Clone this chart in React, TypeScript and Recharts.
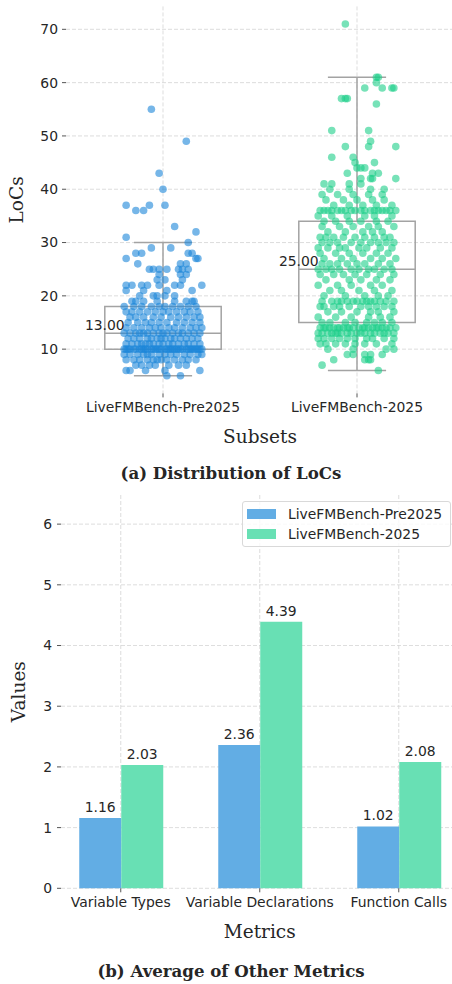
import React from "react";
import {
  ComposedChart,
  Scatter,
  BarChart,
  Bar,
  LabelList,
  XAxis,
  YAxis,
  CartesianGrid,
  ReferenceArea,
  ReferenceLine,
  ReferenceDot,
} from "recharts";

const SANS = "DejaVu Sans";
const SERIF = "DejaVu Serif";
const INK = "#262626";

const SUBSETS = ["LiveFMBench-Pre2025", "LiveFMBench-2025"];
const SUBSET_POS = [0, 1];

// [LoC value, jitter offsets in hundredths of a category]
const PRE2025_LOCS: [number, number[]][] = [
  [5, [2, 9]],
  [6, [-19, -17, 1, -9, 19]],
  [7, [-14, -7, -4, 3, 8, 12, -11]],
  [8, [-19, -15, -12, -8, -5, -1, 2, 6, 10, 13, 17, -3]],
  [9, [-20, -17, -13, -10, -6, -2, 1, 4, 7, 11, 14, 18, 20, -8]],
  [10, [-20, -19, -17, -15, -14, -12, -11, -9, -8, -6, -5, -4, -2, -1, 1, 2, 3, 5, 6, 8, 9, 10, 12, 14, 15, 16, 18, 19, 20, -18, -10, -3, 4, 7, 13, 17]],
  [11, [-19, -16, -13, -11, -7, -5, -2, 0, 3, 5, 8, 11, 13, 16, 19, -9]],
  [12, [-18, -15, -12, -8, -6, -3, 1, 4, 6, 9, 12, 15, 18, -1]],
  [13, [-20, -17, -14, -10, -8, -5, -2, 0, 2, 5, 8, 10, 13, 16, 19, -12]],
  [14, [-19, -15, -11, -7, -4, -1, 3, 6, 10, 14, 17, 20]],
  [15, [-18, -13, -9, -6, -2, 2, 7, 11, 15, 19]],
  [16, [-17, -14, -10, -5, -1, 4, 8, 12, 16, 19]],
  [17, [-19, -16, -12, -8, -4, 0, 3, 7, 11, 14, 18]],
  [18, [-20, -15, -11, -6, -2, 1, 5, 9, 13, 17]],
  [19, [-16, -14, -10, -3, 6, 12, 15, 16]],
  [20, [-12, -5, -3, 1, 6]],
  [21, [-19, -10, 2, 15]],
  [22, [-19, -16, -11, -8, -2, 6, 9, 20]],
  [23, [-3, 1, 10]],
  [24, [-2, 9, 12]],
  [25, [-7, -5, -2, 2, 8, 10, 13]],
  [26, [-13, 9, 12]],
  [27, [-19, 17, 18]],
  [28, [-14, -11, 13, 15]],
  [29, [-6, 4]],
  [30, [13]],
  [31, [-19]],
  [32, [17]],
  [33, [6]],
  [36, [-14, -10]],
  [37, [-19, -7, 1]],
  [40, [0]],
  [43, [-2]],
  [49, [12]],
  [55, [-6]],
];

const LIVE2025_LOCS: [number, number[]][] = [
  [6, [11]],
  [7, [-18]],
  [8, [-12, 4, 6, 7]],
  [9, [-5, -2, 4, 7, 13]],
  [10, [-15, -2, 15, 19]],
  [11, [-19, -16, -11, -6, -1, 4, 10, 18]],
  [12, [-20, -17, -13, -9, -5, -1, 5, 8, 14, 19]],
  [13, [-20, -18, -15, -13, -10, -8, -5, -3, 0, 2, 4, 7, 9, 12, 14, 16, 19, -11]],
  [14, [-19, -17, -16, -14, -12, -10, -9, -7, -5, -4, -2, 1, 3, 4, 6, 8, 10, 11, 13, 15, 17, 20]],
  [15, [-18, -14, -6, -1, 5, 9, 13, 18]],
  [16, [-20, -11, -3, 6, 12, 17]],
  [17, [-15, -8, 0, 7, 11, 19]],
  [18, [-19, -17, -12, -9, -4, 2, 6, 10, 14, 18]],
  [19, [-18, -13, -10, -8, -5, -2, 0, 3, 5, 7, 9, 12, 15, 19]],
  [20, [-17, -6, 4, 11, 16]],
  [21, [-14, -8, 1, 9, 18]],
  [22, [-20, -10, -3, 7, 13]],
  [23, [-16, -4, 2, 10, 17]],
  [24, [-19, -12, -7, -1, 5, 12, 19]],
  [25, [-20, -16, -13, -9, -3, 1, 6, 9, 14, 18]],
  [26, [-18, -14, -10, -5, 0, 4, 11, 17]],
  [27, [-17, -8, -2, 7, 13, 20]],
  [28, [-19, -11, -4, 3, 10, 16]],
  [29, [-20, -15, -9, -6, 1, 5, 12, 18]],
  [30, [-18, -14, -10, -3, 2, 7, 11, 15, 19]],
  [31, [-19, -16, -12, -7, -1, 4, 9, 14, 17]],
  [32, [-15, -6, 3, 8, 13]],
  [33, [-18, -9, -2, 6, 11, 19]],
  [34, [-17, -11, -4, 2, 10, 16]],
  [35, [-20, -13, -5, 4, 9, 18]],
  [36, [-19, -17, -15, -13, -10, -8, -6, -3, -1, 2, 4, 7, 9, 11, 13, 15, 17, 20]],
  [37, [-12, -4, 3, 10, 18]],
  [38, [-16, -7, 0, 8, 14]],
  [39, [-18, -10, -2, 6, 13]],
  [40, [-14, -4, 7, 14]],
  [41, [-17, -13, -4, 2]],
  [42, [2, 7, 8, 20]],
  [43, [-5, 8, 11]],
  [44, [0, 2, 4]],
  [45, [-1, 9]],
  [46, [-13, -2]],
  [48, [-6, 6, 20]],
  [49, [7]],
  [51, [-13, 6]],
  [56, [10]],
  [57, [-8, -6, -5]],
  [59, [4, 13, 18, 19]],
  [60, [10]],
  [61, [10, 11]],
  [71, [-6]],
];

// [lower whisker, Q1, median, Q3, upper whisker]
const BOX_STATS = [
  [5, 10, 13, 18, 30],
  [6, 15, 25, 34, 61],
];
const LOC_TICKS = [10, 20, 30, 40, 50, 60, 70];

const METRICS = ["Variable Types", "Variable Declarations", "Function Calls"];
const PRE2025_AVG = [1.16, 2.36, 1.02];
const LIVE2025_AVG = [2.03, 4.39, 2.08];
const VALUE_TICKS = [0, 1, 2, 3, 4, 5, 6];

const BLUE_DOT = "#1a86d9";
const GREEN_DOT = "#1ccf88";
const BLUE_BAR = "#62ade4";
const GREEN_BAR = "#68e0b4";
const BOX_LINE = "#a3a3a3";
const GRID = "#d4d4d4";
const TICK_LINE = "#555";

const toPoints = (rows: [number, number[]][], idx: number) =>
  rows.flatMap(([v, js]) => js.map((j) => ({ x: idx + j / 100, y: v })));

const tickStyle = { fontFamily: SANS, fontSize: 13.9, fill: INK };
const labelStyle = { fontFamily: SERIF, fontSize: 18.5, fill: INK, textAnchor: "middle" as const };

function dot(color: string) {
  return (p: any) => <circle cx={p.cx} cy={p.cy} r={3.8} fill={color} fillOpacity={0.6} />;
}

function BoxPlotChart() {
  const pre = toPoints(PRE2025_LOCS, 0);
  const live = toPoints(LIVE2025_LOCS, 1);
  return (
    <ComposedChart width={460} height={455} margin={{ top: 6.4, right: 6, left: 0, bottom: 0 }}>
      <CartesianGrid
        stroke={GRID}
        strokeDasharray="4 2"
        strokeWidth={0.8}
        syncWithTicks
        verticalValues={SUBSET_POS}
        horizontalValues={LOC_TICKS}
      />
      <XAxis
        type="number"
        dataKey="x"
        domain={[-0.5, 1.5]}
        ticks={SUBSET_POS}
        tickFormatter={(i) => SUBSETS[i]}
        axisLine={false}
        tickLine={{ stroke: TICK_LINE }}
        tickSize={4}
        tickMargin={5}
        height={61.6}
        tick={tickStyle}
        label={{ value: "Subsets", position: "insideBottom", offset: 11.7, style: labelStyle }}
      />
      <YAxis
        type="number"
        dataKey="y"
        domain={[1.7, 74.3]}
        ticks={LOC_TICKS}
        axisLine={false}
        tickLine={{ stroke: TICK_LINE }}
        tickSize={4}
        tickMargin={4}
        width={66}
        tick={tickStyle}
        label={{ value: "LoCs", angle: -90, position: "insideLeft", offset: 16.5, style: labelStyle }}
      />
      {BOX_STATS.map(([lo, q1, med, q3, hi], i) => (
        <React.Fragment key={i}>
          <ReferenceLine segment={[{ x: i, y: lo }, { x: i, y: q1 }]} stroke={BOX_LINE} strokeWidth={1.5} />
          <ReferenceLine segment={[{ x: i, y: q3 }, { x: i, y: hi }]} stroke={BOX_LINE} strokeWidth={1.5} />
          <ReferenceLine segment={[{ x: i - 0.15, y: lo }, { x: i + 0.15, y: lo }]} stroke={BOX_LINE} strokeWidth={1.5} />
          <ReferenceLine segment={[{ x: i - 0.15, y: hi }, { x: i + 0.15, y: hi }]} stroke={BOX_LINE} strokeWidth={1.5} />
          <ReferenceArea x1={i - 0.3} x2={i + 0.3} y1={q1} y2={q3} fill="none" stroke={BOX_LINE} strokeWidth={1.5} fillOpacity={0} />
          <ReferenceLine segment={[{ x: i - 0.3, y: med }, { x: i + 0.3, y: med }]} stroke={BOX_LINE} strokeWidth={1.5} />
        </React.Fragment>
      ))}
      <Scatter data={pre} shape={dot(BLUE_DOT)} isAnimationActive={false} />
      <Scatter data={live} shape={dot(GREEN_DOT)} isAnimationActive={false} />
      {BOX_STATS.map(([, , med], i) => (
        <ReferenceDot
          key={`m${i}`}
          x={i - 0.3}
          y={med}
          r={0}
          shape={(p: any) => (
            <text x={p.cx} y={p.cy - 3.3} textAnchor="middle" fontFamily={SANS} fontSize={13.9} fill={INK}>
              {med.toFixed(2)}
            </text>
          )}
        />
      ))}
    </ComposedChart>
  );
}

function MetricsChart() {
  const data = METRICS.map((m, i) => ({ metric: m, pre: PRE2025_AVG[i], live: LIVE2025_AVG[i] }));
  return (
    <BarChart width={460} height={480} data={data} barGap={0} margin={{ top: 15, right: 1.5, left: 0, bottom: 0 }}>
      <CartesianGrid
        stroke={GRID}
        strokeDasharray="4 2"
        strokeWidth={0.8}
        syncWithTicks
        verticalValues={METRICS}
        horizontalValues={VALUE_TICKS}
      />
      <XAxis
        dataKey="metric"
        padding={{ left: -9.75, right: -9.75 }}
        axisLine={false}
        tickLine={{ stroke: TICK_LINE }}
        tickSize={4}
        tickMargin={5}
        height={71.7}
        tick={tickStyle}
        interval={0}
        label={{ value: "Metrics", position: "insideBottom", offset: 21.7, style: labelStyle }}
      />
      <YAxis
        domain={[0, 6.48]}
        ticks={VALUE_TICKS}
        axisLine={false}
        tickLine={{ stroke: TICK_LINE }}
        tickSize={4}
        tickMargin={5}
        width={61}
        tick={tickStyle}
        label={{ value: "Values", angle: -90, position: "insideLeft", offset: 18, style: labelStyle }}
      />
      <Bar dataKey="pre" fill={BLUE_BAR} barSize={42} isAnimationActive={false}>
        <LabelList dataKey="pre" position="top" offset={6} formatter={(v: any) => Number(v).toFixed(2)} style={tickStyle} />
      </Bar>
      <Bar dataKey="live" fill={GREEN_BAR} barSize={42} isAnimationActive={false}>
        <LabelList dataKey="live" position="top" offset={6} formatter={(v: any) => Number(v).toFixed(2)} style={tickStyle} />
      </Bar>
    </BarChart>
  );
}

const captionStyle: React.CSSProperties = {
  position: "absolute",
  left: 0,
  width: 462,
  textAlign: "center",
  fontFamily: SERIF,
  fontWeight: "bold",
  fontSize: 16.6,
  lineHeight: "20px",
  color: INK,
};

export default function App() {
  return (
    <div style={{ position: "absolute", left: 0, top: 0, width: 452, height: 984, overflow: "hidden", background: "#fff" }}>
      <div style={{ position: "absolute", left: 0, top: 0 }}>
        <BoxPlotChart />
      </div>
      <div style={{ ...captionStyle, top: 463 }}>(a) Distribution of LoCs</div>
      <div style={{ position: "absolute", left: 0, top: 480 }}>
        <MetricsChart />
      </div>
      <div
        style={{
          position: "absolute",
          left: 242,
          top: 501,
          width: 209,
          height: 46,
          boxSizing: "border-box",
          border: "1px solid #d9d9d9",
          borderRadius: 3,
          background: "rgba(255,255,255,0.8)",
          fontFamily: SANS,
          fontSize: 13.9,
          color: INK,
        }}
      >
        {[
          ["LiveFMBench-Pre2025", BLUE_BAR],
          ["LiveFMBench-2025", GREEN_BAR],
        ].map(([name, color], i) => (
          <div key={name} style={{ position: "absolute", left: 0, top: 3 + i * 20, height: 18, width: 205 }}>
            <div style={{ position: "absolute", left: 4, top: 4, width: 29, height: 10, background: color }} />
            <div style={{ position: "absolute", left: 45, top: 0, lineHeight: "18px", whiteSpace: "nowrap" }}>{name}</div>
          </div>
        ))}
      </div>
      <div style={{ ...captionStyle, top: 961 }}>(b) Average of Other Metrics</div>
    </div>
  );
}
